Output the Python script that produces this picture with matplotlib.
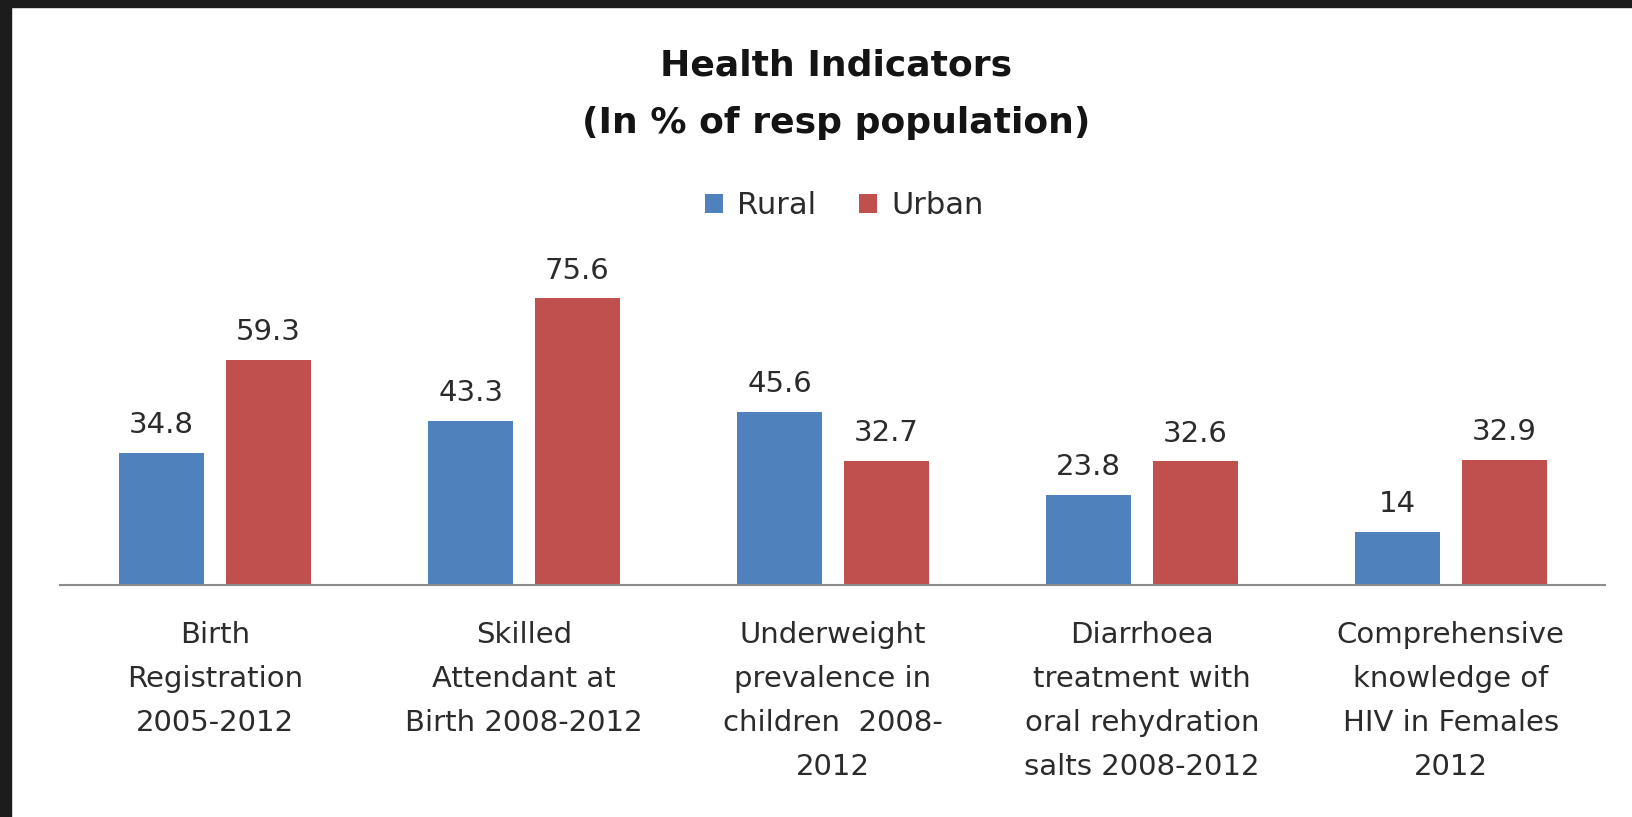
import matplotlib.pyplot as plt
import numpy as np
from matplotlib.patches import Rectangle

categories = ["Birth\nRegistration\n2005-2012",
              "Skilled\nAttendant at\nBirth 2008-2012",
              "Underweight\nprevalence in\nchildren  2008-\n2012",
              "Diarrhoea\ntreatment with\noral rehydration\nsalts 2008-2012",
              "Comprehensive\nknowledge of\nHIV in Females\n2012"]
rural = [34.8, 43.3, 45.6, 23.8, 14]
urban = [59.3, 75.6, 32.7, 32.6, 32.9]
rural_labels = ["34.8", "43.3", "45.6", "23.8", "14"]
urban_labels = ["59.3", "75.6", "32.7", "32.6", "32.9"]

BLEU = "#4F81BD"
ROUGE = "#C0504D"
GRIS = "#2b2b2b"

fig = plt.figure(figsize=(16.33, 8.17), dpi=100)
fig.patch.set_facecolor("white")

# bandeau sombre en haut et a gauche
fig.patches.append(Rectangle((0, 1 - 7/817), 1, 7/817, transform=fig.transFigure,
                             color="#1c1c1c", zorder=0))
fig.patches.append(Rectangle((0, 0), 11/1633, 1, transform=fig.transFigure,
                             color="#1c1c1c", zorder=0))

ax = fig.add_axes([0.037, 0.284, 0.946, 0.4175])
x = np.arange(len(categories))
largeur = 0.275
ecart = 0.035
b1 = ax.bar(x - largeur/2 - ecart, rural, largeur, color=BLEU, label="Rural")
b2 = ax.bar(x + largeur/2 + ecart, urban, largeur, color=ROUGE, label="Urban")

for barres, textes in [(b1, rural_labels), (b2, urban_labels)]:
    for b, t in zip(barres, textes):
        ax.annotate(t, (b.get_x() + b.get_width()/2, b.get_height()),
                    xytext=(0, 10), textcoords="offset points",
                    ha="center", va="bottom", fontsize=21, color=GRIS)

ax.set_xlim(-0.5, len(categories) - 0.5)
ax.set_ylim(0, 90)
ax.set_yticks([])
for s in ["top", "right", "left"]:
    ax.spines[s].set_visible(False)
ax.spines["bottom"].set_color("#8c8c8c")
ax.spines["bottom"].set_linewidth(1.5)
ax.set_xticks(x)
ax.set_xticklabels(categories, fontsize=21, color=GRIS, linespacing=1.73)
ax.tick_params(axis="x", length=0, pad=26)

fig.text(0.512, 0.92, "Health Indicators", ha="center", va="center",
         fontsize=26, fontweight="bold", color="#141414")
fig.text(0.512, 0.85, "(In % of resp population)", ha="center", va="center",
         fontsize=26, fontweight="bold", color="#141414")

fig.legend(loc="center", bbox_to_anchor=(0.517, 0.748), ncol=2, frameon=False,
           fontsize=22, handlelength=0.6, handleheight=0.6, handletextpad=0.45,
           columnspacing=1.4, labelcolor=GRIS)

plt.savefig("out.png", dpi=100)
